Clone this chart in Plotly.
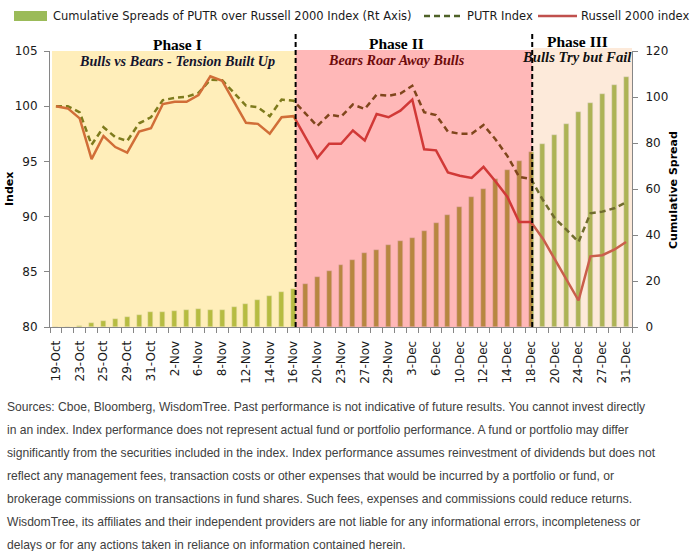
import plotly.graph_objects as go

dates = ["19-Oct","22-Oct","23-Oct","24-Oct","25-Oct","26-Oct","29-Oct","30-Oct","31-Oct",
         "1-Nov","2-Nov","5-Nov","6-Nov","7-Nov","8-Nov","9-Nov","12-Nov","13-Nov","14-Nov",
         "15-Nov","16-Nov","19-Nov","20-Nov","21-Nov","23-Nov","26-Nov","27-Nov","28-Nov",
         "29-Nov","30-Nov","3-Dec","4-Dec","6-Dec","7-Dec","10-Dec","11-Dec","12-Dec","13-Dec",
         "14-Dec","17-Dec","18-Dec","19-Dec","20-Dec","21-Dec","24-Dec","26-Dec","27-Dec",
         "28-Dec","31-Dec"]

cum_spread = [0, 0, 0.4, 1.7, 2.6, 3.5, 4.3, 5.2, 6.5, 6.5, 7.0, 7.4, 7.8, 7.4, 7.4, 8.7,
              10.1, 11.7, 13.5, 15.2, 16.5, 18.7, 21.7, 24.3, 27.0, 29.1, 32.2, 33.5, 35.7,
              37.4, 38.7, 41.7, 45.2, 48.7, 52.2, 56.5, 60.0, 64.3, 68.3, 72.2, 76.1, 79.6,
              83.5, 88.3, 93.5, 97.4, 101.4, 105.2, 108.7]

putr = [100.0, 100.0, 99.45, 96.5, 98.1, 97.2, 96.85, 98.45, 99.0, 100.55, 100.75, 100.85,
        101.2, 102.4, 102.35, 101.2, 100.05, 99.9, 99.1, 100.6, 100.5, 99.35, 98.2, 99.25,
        99.05, 100.15, 99.75, 101.05, 100.95, 101.15, 101.85, 99.45, 99.2, 97.7, 97.5, 97.5,
        98.3, 97.0, 95.5, 93.6, 93.4, 91.5, 89.85, 88.8, 87.7, 90.3, 90.45, 90.75, 91.3]

russell = [100.0, 99.8, 98.9, 95.2, 97.3, 96.3, 95.8, 97.7, 98.0, 100.2, 100.4, 100.4, 101.0,
           102.7, 102.3, 100.4, 98.5, 98.4, 97.5, 99.0, 99.1, 97.2, 95.3, 96.6, 96.6, 97.8,
           96.9, 99.3, 99.0, 99.6, 100.6, 96.1, 96.0, 94.0, 93.7, 93.5, 94.5, 93.2, 91.8,
           89.5, 89.5, 88.0, 86.1, 84.3, 82.4, 86.4, 86.5, 87.0, 87.7]

phase_titles = ["Phase I", "Phase II", "Phase III"]
phase_subtitles = ["Bulls vs Bears - Tension Built Up", "Bears Roar Away Bulls", "Bulls Try but Fail"]

footnote = [
    "Sources: Cboe, Bloomberg, WisdomTree. Past performance is not indicative of future results. You cannot invest directly",
    "in an index. Index performance does not represent actual fund or portfolio performance. A fund or portfolio may differ",
    "significantly from the securities included in the index. Index performance assumes reinvestment of dividends but does not",
    "reflect any management fees, transaction costs or other expenses that would be incurred by a portfolio or fund, or",
    "brokerage commissions on transactions in fund shares. Such fees, expenses and commissions could reduce returns.",
    "WisdomTree, its affiliates and their independent providers are not liable for any informational errors, incompleteness or",
    "delays or for any actions taken in reliance on information contained herein.",
]

W, H = 692, 551
L, R, T, B = 50, 60, 51, 224
PW, PH = W - L - R, H - T - B

def px(x):
    return (x - L) / PW

def py(y):
    return (H - B - y) / PH

xs = list(range(len(dates)))

fig = go.Figure()
fig.add_trace(go.Bar(x=xs, y=cum_spread, marker_color="#9bbb59", width=0.42,
                     yaxis="y", showlegend=False))
fig.add_trace(go.Scatter(x=xs, y=putr, mode="lines", yaxis="y2", showlegend=False,
                         line=dict(color="#4f6228", width=2.5, dash="6px,4px")))
fig.add_trace(go.Scatter(x=xs, y=russell, mode="lines", yaxis="y2", showlegend=False,
                         line=dict(color="#c0504d", width=2.5)))

axis_font = dict(family="DejaVu Sans", size=12, color="#1a1a1a")
fig.update_layout(
    width=W, height=H,
    margin=dict(l=L, r=R, t=T, b=B, pad=0),
    paper_bgcolor="white", plot_bgcolor="white",
    bargap=0,
    xaxis=dict(range=[-0.5, len(dates) - 0.5], tickmode="array",
               tickvals=xs[::2], ticktext=dates[::2], tickangle=-90,
               ticks="outside", ticklen=0, ticklabelstandoff=8,
               minor=dict(ticks="outside", tick0=-0.5, dtick=1, ticklen=5,
                          tickcolor="#868686", tickwidth=1),
               showline=True, linecolor="#868686", linewidth=1,
               showgrid=False, zeroline=False, tickfont=axis_font),
    yaxis=dict(side="right", range=[0, 120], dtick=20, ticks="outside", ticklen=5,
               tickcolor="#868686", showline=True, linecolor="#868686", linewidth=1,
               showgrid=False, zeroline=False, tickfont=axis_font, ticklabelstandoff=5),
    yaxis2=dict(side="left", overlaying="y", range=[80, 105], dtick=5, ticks="outside",
                ticklen=5, tickcolor="#868686", showline=True, linecolor="#868686",
                linewidth=1, showgrid=False, zeroline=False, tickfont=axis_font,
                ticklabelstandoff=4),
)

# phase overlays (translucent, drawn above the traces)
b1, b2 = 20.18, 40.1
overlays = [(-0.33, b1, 1.0, "rgba(255,192,0,0.27)"),
            (b1, b2, 1.004, "rgba(255,0,0,0.28)"),
            (b2, 48.6, 1.011, "rgba(247,150,70,0.2)")]
for x0, x1, y1, col in overlays:
    fig.add_shape(type="rect", xref="x", yref="paper", x0=x0, x1=x1, y0=0, y1=y1,
                  fillcolor=col, line=dict(width=0), layer="above")
for xb in (b1, b2):
    fig.add_shape(type="line", xref="x", yref="paper", x0=xb, x1=xb, y0=0, y1=py(34),
                  line=dict(color="black", width=2, dash="5px,3px"), layer="above")

# phase headings: (center x, title y, subtitle y, subtitle colour, subtitle size)
title_pos = [(177, 44, 60.5, "#14142e", 14.2), (396, 43, 59.5, "#6e0b0b", 14.2),
             (577, 41.5, 57, "#111111", 14.7)]
for (cx, ty, sy, scol, ssz), t, s in zip(title_pos, phase_titles, phase_subtitles):
    fig.add_annotation(x=px(cx), y=py(ty), xref="paper", yref="paper", text="<b>%s</b>" % t,
                       showarrow=False, xanchor="center", yanchor="middle",
                       font=dict(family="Liberation Serif", size=15.5, color="black"))
    fig.add_annotation(x=px(cx), y=py(sy), xref="paper", yref="paper",
                       text="<b><i>%s</i></b>" % s, showarrow=False, xanchor="center",
                       yanchor="middle",
                       font=dict(family="Liberation Serif", size=ssz, color=scol))

# axis titles
fig.add_annotation(x=px(9), y=py(189), xref="paper", yref="paper", text="<b>Index</b>",
                   textangle=-90, showarrow=False, xanchor="center", yanchor="middle",
                   font=dict(family="DejaVu Sans", size=11, color="black"))
fig.add_annotation(x=px(673), y=py(190), xref="paper", yref="paper",
                   text="<b>Cumulative Spread</b>", textangle=-90, showarrow=False,
                   xanchor="center", yanchor="middle",
                   font=dict(family="DejaVu Sans", size=11, color="black"))

# legend (manual)
leg_y = 16
leg_font = dict(family="DejaVu Sans", size=11.5, color="#1a1a1a")
fig.add_shape(type="rect", xref="paper", yref="paper", x0=px(14), x1=px(47),
              y0=py(leg_y + 5), y1=py(leg_y - 5), fillcolor="#9bbb59", line=dict(width=0))
fig.add_annotation(x=px(51), y=py(leg_y), xref="paper", yref="paper",
                   text="Cumulative Spreads of PUTR over Russell 2000 Index (Rt Axis)",
                   showarrow=False, xanchor="left", yanchor="middle", font=leg_font)
fig.add_shape(type="line", xref="paper", yref="paper", x0=px(424), x1=px(461),
              y0=py(leg_y), y1=py(leg_y), line=dict(color="#4f6228", width=2.5, dash="6px,4px"))
fig.add_annotation(x=px(465), y=py(leg_y), xref="paper", yref="paper", text="PUTR Index",
                   showarrow=False, xanchor="left", yanchor="middle", font=leg_font)
fig.add_shape(type="line", xref="paper", yref="paper", x0=px(538), x1=px(577),
              y0=py(leg_y), y1=py(leg_y), line=dict(color="#c0504d", width=2.5))
fig.add_annotation(x=px(579), y=py(leg_y), xref="paper", yref="paper",
                   text="Russell 2000 index",
                   showarrow=False, xanchor="left", yanchor="middle", font=leg_font)

# footnote
for i, line in enumerate(footnote):
    fig.add_annotation(x=px(5), y=py(407 + i * 23.0), xref="paper", yref="paper", text=line,
                       showarrow=False, xanchor="left", yanchor="middle",
                       font=dict(family="Liberation Sans", size=12.1, color="#404040"))

fig.write_html("out.html")
